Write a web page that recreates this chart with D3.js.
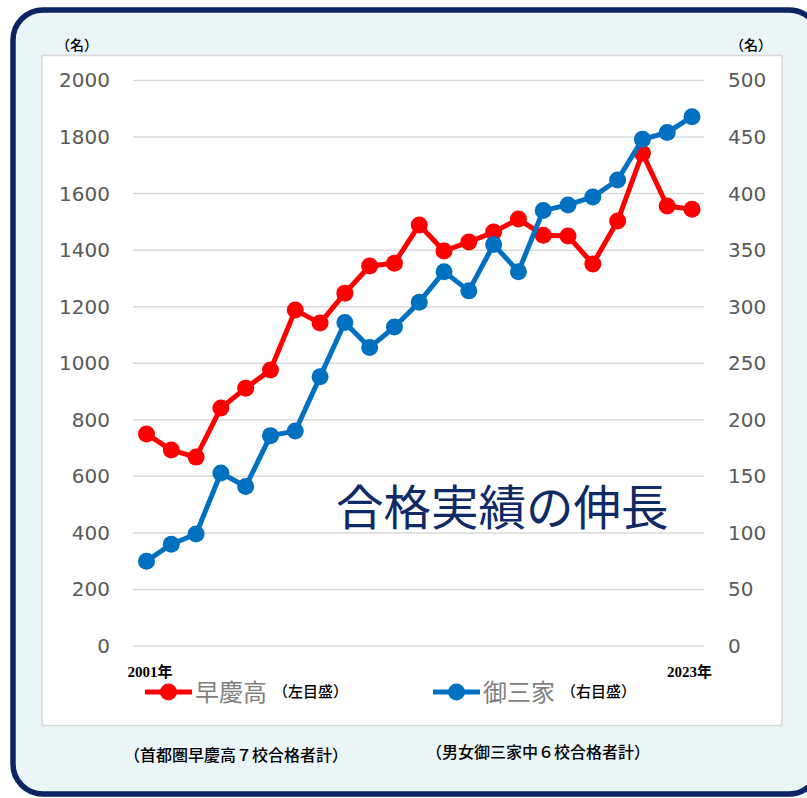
<!DOCTYPE html>
<html>
<head>
<meta charset="utf-8">
<script src="https://cdn.jsdelivr.net/npm/d3@7"></script>
<style>
  body { margin: 0; background: #fff; }
  svg { display: block; }
</style>
</head>
<body>
<div id="chart"></div>
<script>
  'use strict';

  const SANS = 'DejaVu Sans, Noto Sans CJK JP, sans-serif';
  const SERIF = 'Liberation Serif, Noto Sans CJK JP, serif';
  const CJK = 'Noto Sans CJK JP, sans-serif';

  // Data.
  const years = [2001, 2002, 2003, 2004, 2005, 2006, 2007, 2008, 2009, 2010, 2011, 2012,
    2013, 2014, 2015, 2016, 2017, 2018, 2019, 2020, 2021, 2022, 2023];
  // 早慶高 (left axis)
  const soukei = [750, 693, 668, 842, 912, 976, 1188, 1142, 1248, 1344, 1354, 1489,
    1397, 1429, 1464, 1510, 1453, 1450, 1351, 1503, 1743, 1556, 1545];
  // 御三家 (right axis)
  const gosanke = [75, 90, 99, 153, 141, 186, 190, 238, 286, 264, 282, 304,
    331, 314, 355, 331, 385, 390, 397, 412, 448, 454, 468];
  const leftTicks = [0, 200, 400, 600, 800, 1000, 1200, 1400, 1600, 1800, 2000];
  const rightTicks = [0, 50, 100, 150, 200, 250, 300, 350, 400, 450, 500];

  const series = [
    {name: '早慶高', note: '（左目盛）', color: '#ff0000', values: soukei, axis: 'left'},
    {name: '御三家', note: '（右目盛）', color: '#0070c0', values: gosanke, axis: 'right'}
  ];

  const W = 807, H = 798;
  const plot = {left: 133, right: 704, top: 80.5, bottom: 646};

  let svg = d3.select('#chart')
    .append('svg')
    .attr('width', W)
    .attr('height', H);

  // Outer rounded frame.
  svg.append('rect')
    .attr('x', 13).attr('y', 10)
    .attr('width', 806).attr('height', 784)
    .attr('rx', 30).attr('ry', 30)
    .style('fill', '#eaf5f8')
    .style('stroke', '#0b2463')
    .style('stroke-width', 5.5);

  // White chart box.
  svg.append('rect')
    .attr('x', 42).attr('y', 55.5)
    .attr('width', 740).attr('height', 670)
    .style('fill', '#fff')
    .style('stroke', '#d9d9d9')
    .style('stroke-width', 1.5);

  let x = d3.scalePoint()
    .domain(years)
    .range([146.5, 692]);

  let yLeft = d3.scaleLinear()
    .domain([0, 2000])
    .range([plot.bottom, plot.top]);

  let yRight = d3.scaleLinear()
    .domain([0, 500])
    .range([plot.bottom, plot.top]);

  // Grid lines.
  svg.append('g')
    .selectAll('line')
    .data(leftTicks)
    .enter()
    .append('line')
    .attr('x1', plot.left)
    .attr('x2', plot.right)
    .attr('y1', d => yLeft(d))
    .attr('y2', d => yLeft(d))
    .style('stroke', '#d9d9d9')
    .style('stroke-width', 1.5);

  // Axes.
  let leftAxis = svg.append('g')
    .attr('transform', 'translate(' + plot.left + ',0)')
    .call(d3.axisLeft(yLeft).tickValues(leftTicks).tickFormat(d3.format('d'))
      .tickSize(0).tickPadding(23));

  let rightAxis = svg.append('g')
    .attr('transform', 'translate(' + plot.right + ',0)')
    .call(d3.axisRight(yRight).tickValues(rightTicks).tickFormat(d3.format('d'))
      .tickSize(0).tickPadding(24));

  [leftAxis, rightAxis].forEach(function (ax) {
    ax.select('.domain').remove();
    ax.selectAll('text')
      .style('font-family', SANS)
      .style('font-size', '20px')
      .style('fill', '#595959');
  });

  // Unit labels.
  [62, 736].forEach(function (ux) {
    svg.append('text')
      .attr('x', ux).attr('y', 50)
      .attr('dx', -6)
      .text('（名）')
      .style('font-family', SERIF)
      .style('font-size', '14px')
      .style('font-weight', 500)
      .style('fill', '#000');
  });

  // Title inside the plot.
  svg.append('text')
    .attr('x', 336).attr('y', 525)
    .text('合格実績の伸長')
    .style('font-family', CJK)
    .style('font-size', '47.5px')
    .style('fill', '#0f2a66');

  // Lines and markers.
  series.forEach(function (s) {
    let y = s.axis === 'left' ? yLeft : yRight;
    let pts = years.map((yr, i) => [x(yr), y(s.values[i])]);

    svg.append('path')
      .datum(pts)
      .attr('d', d3.line())
      .style('fill', 'none')
      .style('stroke', s.color)
      .style('stroke-width', 5)
      .style('stroke-linejoin', 'round');

    svg.append('g')
      .selectAll('circle')
      .data(pts)
      .enter()
      .append('circle')
      .attr('cx', d => d[0])
      .attr('cy', d => d[1])
      .attr('r', 8.5)
      .style('fill', s.color);
  });

  // First / last year labels.
  svg.append('text')
    .attr('x', x(years[0]) - 19).attr('y', 677)
    .text(years[0] + '年')
    .style('font-family', SERIF)
    .style('font-size', '15px')
    .style('font-weight', 'bold')
    .style('fill', '#000');

  svg.append('text')
    .attr('x', x(years[years.length - 1]) - 25).attr('y', 677)
    .text(years[years.length - 1] + '年')
    .style('font-family', SERIF)
    .style('font-size', '15px')
    .style('font-weight', 'bold')
    .style('fill', '#000');

  // Legend.
  let legendX = [145, 433];
  series.forEach(function (s, i) {
    let g = svg.append('g')
      .attr('transform', 'translate(' + legendX[i] + ',692)');
    g.append('line')
      .attr('x1', 0).attr('x2', 47)
      .style('stroke', s.color)
      .style('stroke-width', 5);
    g.append('circle')
      .attr('cx', 23.5)
      .attr('r', 8.5)
      .style('fill', s.color);
    g.append('text')
      .attr('x', 50).attr('y', 9)
      .text(s.name)
      .style('font-family', CJK)
      .style('font-size', '24px')
      .style('fill', '#7f7f7f');
    g.append('text')
      .attr('x', 128).attr('y', 5)
      .text(s.note)
      .style('font-family', SERIF)
      .style('font-size', '15px')
      .style('font-weight', 500)
      .style('fill', '#000');
  });

  // Footnotes.
  svg.append('text')
    .attr('x', 124).attr('y', 761)
    .text('（首都圏早慶高７校合格者計）')
    .style('font-family', SERIF)
    .style('font-size', '16px')
    .style('font-weight', 500)
    .style('fill', '#000');

  svg.append('text')
    .attr('x', 426).attr('y', 758)
    .text('（男女御三家中６校合格者計）')
    .style('font-family', SERIF)
    .style('font-size', '16px')
    .style('font-weight', 500)
    .style('fill', '#000');
</script>
</body>
</html>
